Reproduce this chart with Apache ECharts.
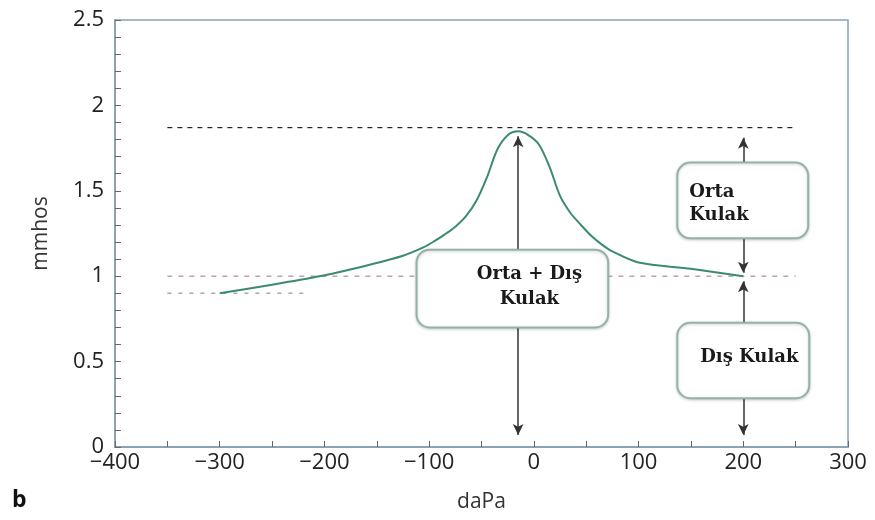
<!DOCTYPE html>
<html>
<head>
<meta charset="utf-8">
<script src="https://cdn.jsdelivr.net/npm/echarts@6/dist/echarts.min.js"></script>
<style>
html,body{margin:0;padding:0;background:#fff;}
#chart{width:875px;height:520px;}
</style>
</head>
<body>
<div id="chart"></div>
<script>
// Data
const pressure   = [-300, -250, -200, -155, -125, -105, -95, -85, -75, -65, -55, -45, -35, -25, -15, -5, 5, 15, 25, 35, 45, 55, 65, 75, 100, 150, 200];
const admittance = [0.90, 0.95, 1.005, 1.07, 1.12, 1.17, 1.205, 1.245, 1.29, 1.35, 1.44, 1.575, 1.74, 1.825, 1.848, 1.825, 1.77, 1.64, 1.47, 1.37, 1.30, 1.235, 1.185, 1.145, 1.08, 1.043, 1.00];

const peakLineX = [-350, 250], peakLineY = 1.87;
const baseLineX = [-350, 250], baseLineY = 1.0;
const startLineX = [-350, -220], startLineY = 0.9;

// Arrows: [x, yFrom, yTo]
const arrowMid = [-15, 0.07, 1.82];
const arrowTop = [200, 1.02, 1.81];
const arrowBot = [200, 0.07, 0.97];

// Annotation boxes in data coords: [xLeft, xRight, yTop, yBottom]
const boxBoth = [-112, 71, 1.155, 0.70];
const boxMid  = [137, 262, 1.665, 1.222];
const boxOuter = [137, 263, 0.727, 0.286];
const labelBoth = 'Orta + Dış\nKulak';
const labelMid = 'Orta\nKulak';
const labelOuter = 'Dış Kulak';

const xTickMin = -400, xTickMax = 300, xTickStep = 100;
const yTickMin = 0, yTickMax = 2.5, yTickStep = 0.5;

const chart = echarts.init(document.getElementById('chart'), null, {renderer: 'canvas'});
const axisColor = '#8aa2b6';
const sans = '"Open Sans", "Noto Sans", sans-serif';

function hLine(xs, y) { return [[xs[0], y], [xs[1], y]]; }
function arrowML(a) {
  return [{coord: [a[0], a[1]]}, {coord: [a[0], a[2]]}];
}

chart.setOption({
  animation: false,
  backgroundColor: '#fff',
  grid: {left: 115, right: 27, top: 20, bottom: 73, show: true, borderColor: axisColor, borderWidth: 1.5},
  xAxis: {
    type: 'value', min: xTickMin, max: xTickMax, interval: xTickStep,
    name: 'daPa', nameLocation: 'middle', nameGap: 45,
    nameTextStyle: {fontFamily: sans, fontSize: 21, color: '#333'},
    axisLine: {show: true, onZero: false, lineStyle: {color: axisColor, width: 2}},
    axisTick: {show: true, inside: true, length: 6, lineStyle: {color: '#666'}},
    minorTick: {show: true, splitNumber: 2, length: 6, lineStyle: {color: '#666'}},
    splitLine: {show: false},
    axisLabel: {fontFamily: sans, fontSize: 22, color: '#222', margin: 5,
      formatter: v => String(v).replace('-', '\u2212')}
  },
  yAxis: {
    type: 'value', min: yTickMin, max: yTickMax, interval: yTickStep,
    name: 'mmhos', nameLocation: 'middle', nameGap: 63, nameRotate: 90,
    nameTextStyle: {fontFamily: sans, fontSize: 21, color: '#333'},
    axisLine: {show: true, onZero: false, lineStyle: {color: axisColor, width: 2}},
    axisTick: {show: true, inside: true, length: 6, lineStyle: {color: '#666'}},
    minorTick: {show: true, splitNumber: 5, length: 6, lineStyle: {color: '#666'}},
    splitLine: {show: false},
    axisLabel: {fontFamily: sans, fontSize: 22, color: '#222', margin: 11}
  },
  series: [
    {type: 'line', data: hLine(peakLineX, peakLineY), symbol: 'none', silent: true,
      lineStyle: {color: '#222', width: 1.2, type: [5, 5]}, z: 2},
    {type: 'line', data: hLine(baseLineX, baseLineY), symbol: 'none', silent: true,
      lineStyle: {color: '#c4a2a8', width: 1.4, type: [5, 6]}, z: 2},
    {type: 'line', data: hLine(startLineX, startLineY), symbol: 'none', silent: true,
      lineStyle: {color: '#a8a8a8', width: 1.4, type: [4, 7]}, z: 2},
    {type: 'line', data: pressure.map((p, i) => [p, admittance[i]]), symbol: 'none',
      smooth: 0.3, lineStyle: {color: '#3a8a74', width: 2}, z: 4,
      markLine: {
        silent: true, symbol: ['arrow', 'arrow'], symbolSize: [8, 11],
        label: {show: false},
        lineStyle: {color: '#333', width: 1.5, type: 'solid'},
        data: [arrowML(arrowMid), arrowML(arrowTop), arrowML(arrowBot)]
      }}
  ]
});

function boxGraphic(b) {
  const p1 = chart.convertToPixel({gridIndex: 0}, [b[0], b[2]]);
  const p2 = chart.convertToPixel({gridIndex: 0}, [b[1], b[3]]);
  const w = p2[0] - p1[0], h = p2[1] - p1[1];
  const els = [{
    type: 'rect', z: 100,
    shape: {x: p1[0], y: p1[1], width: w, height: h, r: 13},
    style: {fill: '#fff', stroke: '#93b2aa', lineWidth: 2,
      shadowBlur: 3, shadowColor: 'rgba(0,0,0,0.18)', shadowOffsetY: 1}
  }];
  return {els, p1, w, h};
}

const b1 = boxGraphic(boxBoth);
const b2 = boxGraphic(boxMid);
const b3 = boxGraphic(boxOuter);
const serif = 'bold 18px "DejaVu Serif", serif';
const extra = [].concat(b1.els, b2.els, b3.els, [
  {type: 'text', z: 101, x: b1.p1[0] + b1.w / 2 + 17, y: b1.p1[1] + b1.h / 2 - 2,
    style: {text: labelBoth, font: serif, fill: '#1a1a1a', align: 'center', verticalAlign: 'middle', lineHeight: 25}},
  {type: 'text', z: 101, x: b2.p1[0] + 12, y: b2.p1[1] + b2.h / 2 + 3,
    style: {text: labelMid, font: serif, fill: '#1a1a1a', align: 'left', verticalAlign: 'middle', lineHeight: 23}},
  {type: 'text', z: 101, x: b3.p1[0] + b3.w / 2 + 6, y: b3.p1[1] + b3.h / 2 - 3,
    style: {text: labelOuter, font: serif, fill: '#1a1a1a', align: 'center', verticalAlign: 'middle'}}
]);
chart.setOption({graphic: [
  {type: 'text', left: 12, top: 489, style: {text: 'b', font: 'bold 23px "Open Sans", sans-serif', fill: '#111'}}
].concat(extra)});
</script>
</body>
</html>
